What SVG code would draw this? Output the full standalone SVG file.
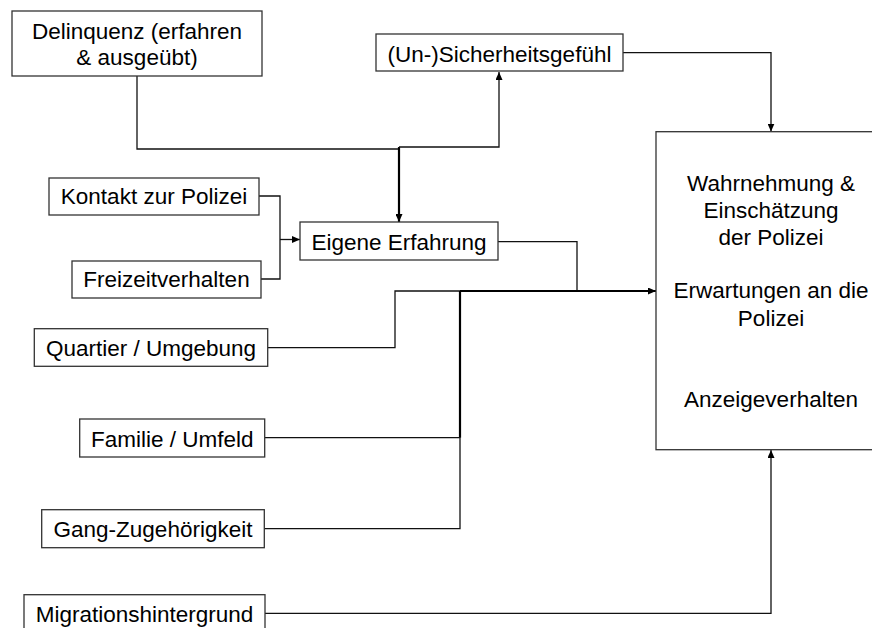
<svg xmlns="http://www.w3.org/2000/svg" width="872" height="628" viewBox="0 0 872 628">
<style>
.box{fill:#fff;stroke:#333;stroke-width:1.3}
.t{font-family:"Liberation Sans",Arial,sans-serif;font-size:22.5px;fill:#000;text-anchor:middle}
.c{fill:none;stroke:#111;stroke-width:1.3}
.b{fill:none;stroke:#000;stroke-width:2.2}
</style>
<defs>
<marker id="ah" markerWidth="8" markerHeight="7" refX="8" refY="3.5" orient="auto" markerUnits="userSpaceOnUse">
<path d="M0,0 L8,3.5 L0,7 Z" fill="#000"/>
</marker>
</defs>
<rect width="872" height="628" fill="#fff"/>
<g id="connectors">
<path class="c" d="M137,76 V149 H399"/>
<path class="b" d="M399,147 V222" marker-end="url(#ah)"/>
<path class="c" d="M399,147 H499 V72" marker-end="url(#ah)"/>
<path class="c" d="M259,196 H280 V279 H261"/>
<path class="c" d="M280,239.5 H300" marker-end="url(#ah)"/>
<path class="c" d="M498,241.7 H577 V291"/>
<path class="c" d="M268,347.7 H395 V291 H460"/>
<path class="b" d="M460,291 H656" marker-end="url(#ah)"/>
<path class="b" d="M460,291 V437.7"/>
<path class="c" d="M265,437.7 H460 V528.7 H264"/>
<path class="c" d="M623,52.7 H771 V131.5" marker-end="url(#ah)"/>
<path class="c" d="M265,613.3 H771 V450" marker-end="url(#ah)"/>
</g>
<g id="delinquenz">
<rect class="box" x="12" y="11" width="250" height="65"/>
<text class="t" x="137" y="39">Delinquenz (erfahren</text>
<text class="t" x="137" y="65">&amp; ausgeübt)</text>
</g>
<g id="sicherheit">
<rect class="box" x="376" y="34" width="247" height="37"/>
<text class="t" x="499.5" y="61.5">(Un-)Sicherheitsgefühl</text>
</g>
<g id="kontakt">
<rect class="box" x="49" y="178" width="210" height="37"/>
<text class="t" x="154" y="204">Kontakt zur Polizei</text>
</g>
<g id="freizeit">
<rect class="box" x="72" y="261" width="189" height="37"/>
<text class="t" x="166.5" y="287">Freizeitverhalten</text>
</g>
<g id="eigene">
<rect class="box" x="300" y="222" width="198" height="38"/>
<text class="t" x="399" y="250">Eigene Erfahrung</text>
</g>
<g id="quartier">
<rect class="box" x="34.3" y="328.7" width="233.4" height="37.6"/>
<text class="t" x="151" y="356">Quartier / Umgebung</text>
</g>
<g id="familie">
<rect class="box" x="79.7" y="419" width="185" height="38"/>
<text class="t" x="172.2" y="446.7">Familie / Umfeld</text>
</g>
<g id="gang">
<rect class="box" x="41.7" y="509.7" width="222.6" height="38"/>
<text class="t" x="153" y="537.3">Gang-Zugehörigkeit</text>
</g>
<g id="migration">
<rect class="box" x="24" y="594.7" width="241" height="40"/>
<text class="t" x="144.5" y="621.7">Migrationshintergrund</text>
</g>
<g id="wahrnehmung">
<rect class="box" x="656" y="131.7" width="230" height="318"/>
<text class="t" x="771" y="190.7">Wahrnehmung &amp;</text>
<text class="t" x="771" y="218.3">Einschätzung</text>
<text class="t" x="771" y="245">der Polizei</text>
<text class="t" x="771" y="298.3">Erwartungen an die</text>
<text class="t" x="771" y="326">Polizei</text>
<text class="t" x="771" y="407.3">Anzeigeverhalten</text>
</g>
</svg>
